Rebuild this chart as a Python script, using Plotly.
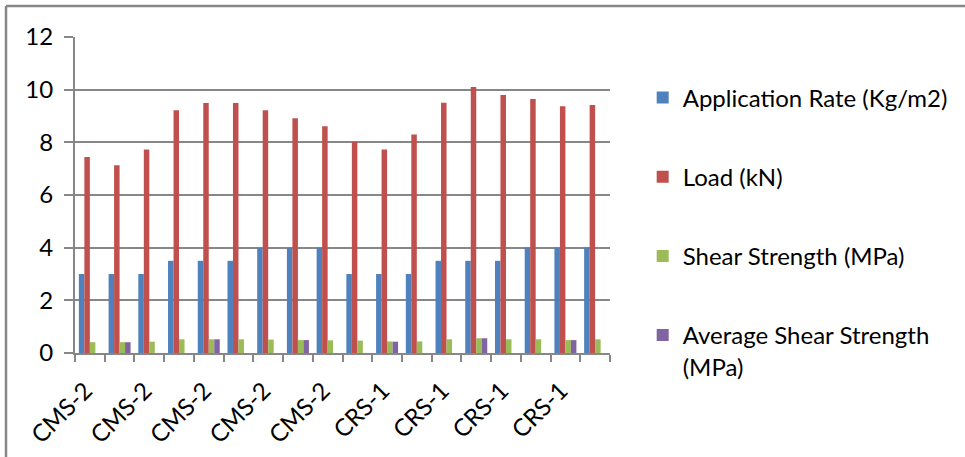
import plotly.graph_objects as go

# Sample groups (nine CMS-2 and nine CRS-1 specimens)
categories = ["CMS-2"] * 9 + ["CRS-1"] * 9

application_rate = [3, 3, 3, 3.5, 3.5, 3.5, 4, 4, 4,
                    3, 3, 3, 3.5, 3.5, 3.5, 4, 4, 4]
load_kn = [7.44, 7.13, 7.73, 9.22, 9.49, 9.49, 9.22, 8.91, 8.61,
           8.02, 7.73, 8.3, 9.5, 10.1, 9.8, 9.65, 9.37, 9.42]
shear_strength = [0.41, 0.41, 0.43, 0.52, 0.52, 0.52, 0.51, 0.49, 0.48,
                  0.47, 0.44, 0.44, 0.52, 0.56, 0.52, 0.52, 0.49, 0.52]
avg_shear_strength = [None, 0.41, None, None, 0.52, None, None, 0.49, None,
                      None, 0.43, None, None, 0.56, None, None, 0.49, None]

y_ticks = [0, 2, 4, 6, 8, 10, 12]

series = [
    ("Application Rate (Kg/m2)", application_rate, "#4F81BD"),
    ("Load (kN)", load_kn, "#C0504D"),
    ("Shear Strength (MPa)", shear_strength, "#9BBB59"),
    ("Average Shear Strength<br>(MPa)", avg_shear_strength, "#8064A2"),
]

x_pos = list(range(len(categories)))
label_idx = [i for i in x_pos if i % 2 == 0]

FONT = "Lato, 'Open Sans', sans-serif"
FSIZE = 24
GRID = "#878787"

fig = go.Figure()
for i, (name, vals, color) in enumerate(series):
    fig.add_trace(go.Bar(
        x=x_pos, y=vals, name=name, legendgroup=f"g{i}",
        marker=dict(color=color, line=dict(width=0)),
    ))

fig.update_layout(
    width=965, height=457,
    margin=dict(l=75, r=355, t=37, b=104, autoexpand=False),
    paper_bgcolor="white", plot_bgcolor="white",
    barmode="group", bargap=0.26, bargroupgap=0,
    font=dict(family=FONT, size=FSIZE, color="black"),
    showlegend=True,
    legend=dict(
        xref="container", yref="container",
        x=0.666, y=0.835, xanchor="left", yanchor="top",
        tracegroupgap=45, valign="top", maxheight=420,
        font=dict(family=FONT, size=FSIZE, color="black"),
        itemwidth=30,
    ),
    xaxis=dict(
        range=[-0.5, len(categories) - 0.5],
        tickmode="array",
        tickvals=[i - 0.15 for i in label_idx],
        ticktext=[categories[i] for i in label_idx],
        tickangle=-45, ticks="",
        ticklabelstandoff=12, automargin=False,
        showgrid=False, zeroline=False,
        showline=True, linecolor=GRID, linewidth=2,
        minor=dict(ticks="outside", tick0=-0.5, dtick=1, ticklen=7,
                   tickcolor=GRID, tickwidth=2, showgrid=False),
        tickfont=dict(family=FONT, size=FSIZE, color="black"),
    ),
    yaxis=dict(
        range=[0, 12], tickmode="array", tickvals=y_ticks,
        showgrid=True, gridcolor=GRID, gridwidth=2,
        zeroline=False, automargin=False,
        showline=True, linecolor=GRID, linewidth=2,
        ticks="outside", ticklen=9, tickcolor=GRID, tickwidth=2,
        ticklabelstandoff=6,
        tickfont=dict(family=FONT, size=FSIZE, color="black"),
    ),
)

# Chart frame (top and left edges)
fig.add_shape(type="line", xref="paper", yref="paper",
              x0=-69 / 535, x1=1.7, y0=1 + 31 / 316, y1=1 + 31 / 316,
              line=dict(color=GRID, width=2.5))
fig.add_shape(type="line", xref="paper", yref="paper",
              x0=-69 / 535, x1=-69 / 535, y0=1 + 31 / 316, y1=-0.5,
              line=dict(color=GRID, width=2.5))

fig.write_html("out.html")
